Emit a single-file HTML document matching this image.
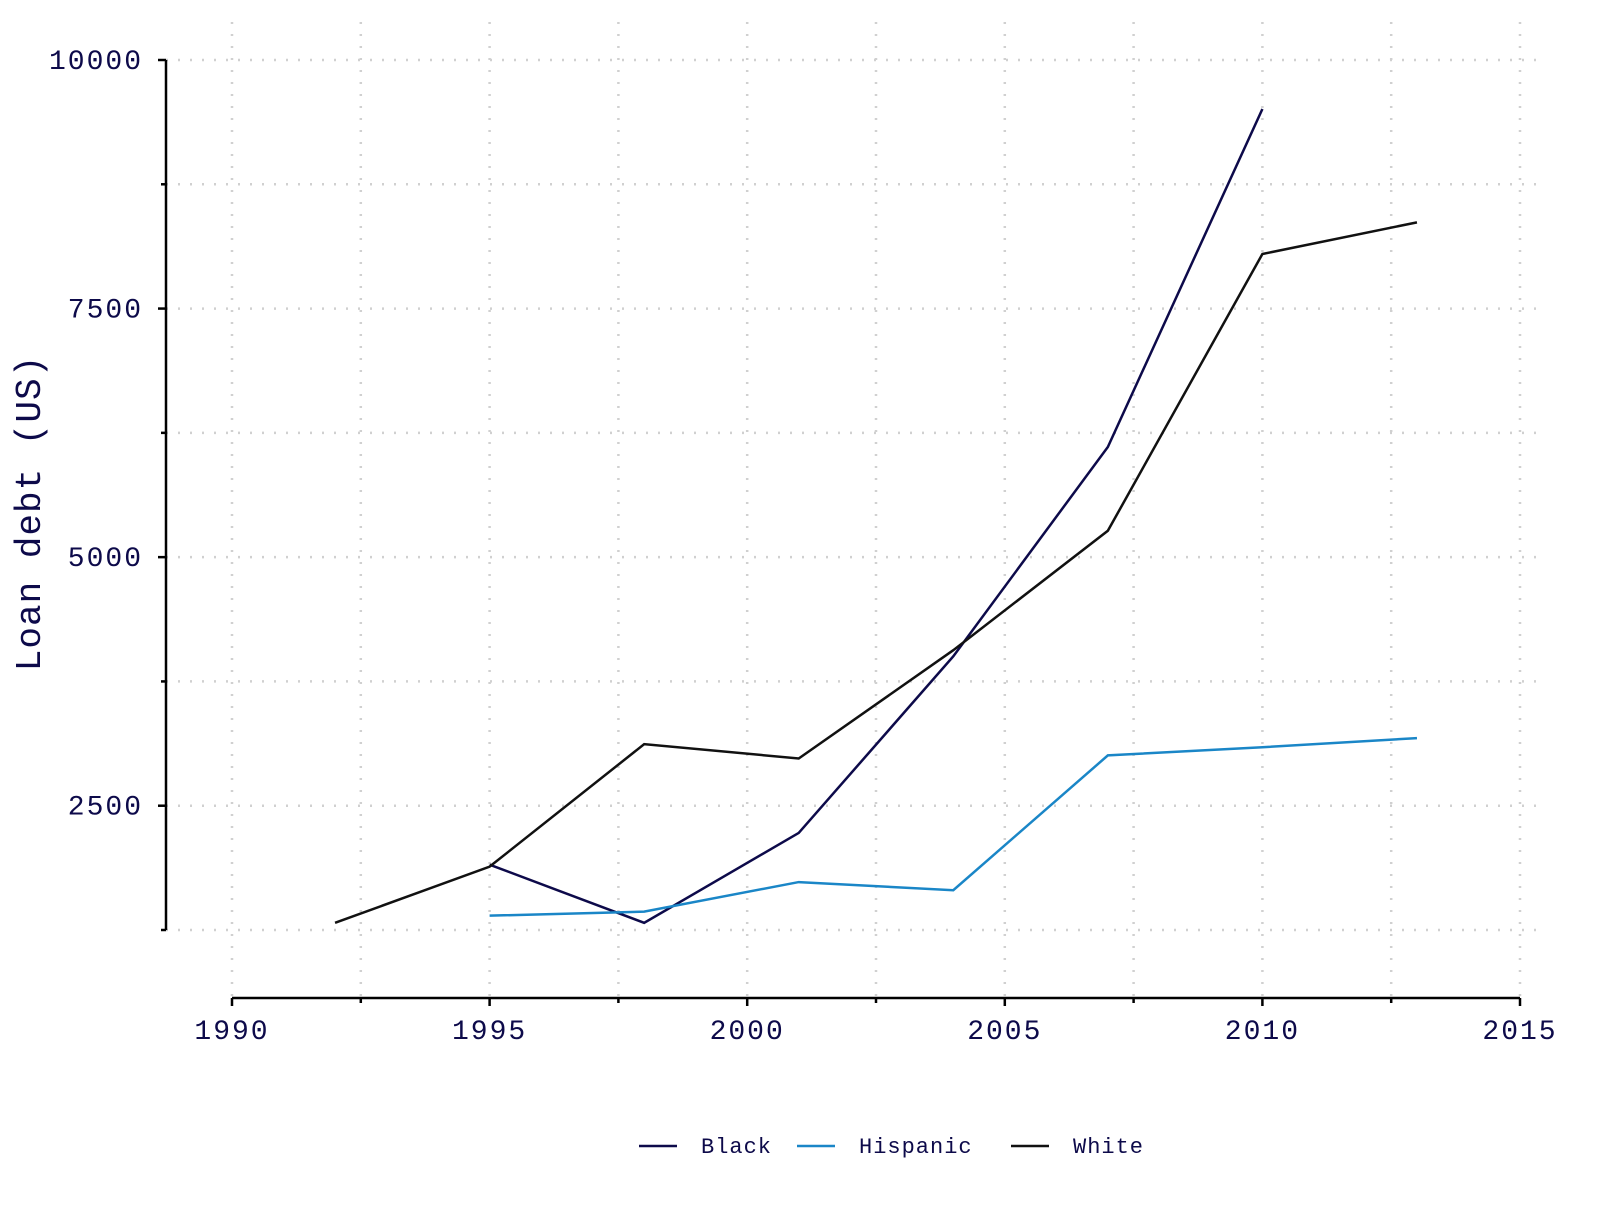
<!DOCTYPE html>
<html><head><meta charset="utf-8"><style>body{margin:0;background:#fff}svg text{font-family:"Liberation Mono",monospace;fill:#0d0a4a}</style></head>
<body>
<svg id="chart" width="1600" height="1200"></svg>
<script>
const years=[1992,1995,1998,2001,2004,2007,2010,2013];
const black=[null,1907,1322,2226,4002,6108,9507,null];
const hispanic=[null,1394,1435,1732,1650,3006,3088,3180];
const white=[1322,1887,3119,2975,4064,5265,8049,8367];
const xTicks=[1990,1995,2000,2005,2010,2015];
const yTicks=[2500,5000,7500,10000];
const NS='http://www.w3.org/2000/svg';
const svg=document.getElementById('chart');
const X=v=>232+(v-1990)*(1520-232)/25;
const Y=v=>60+(10000-v)*(930-60)/8750;
function mk(t,a,p){const e=document.createElementNS(NS,t);for(const k in a)e.setAttribute(k,a[k]);(p||svg).appendChild(e);return e;}
const grid=mk('g',{});


for(let v=1990;v<=2015;v+=2.5){mk('line',{x1:X(v),x2:X(v),y1:22,y2:998,stroke:'#d0d0d0','stroke-width':2.5,'stroke-dasharray':'2 10'},grid);}
for(let v=1250;v<=10000;v+=1250){mk('line',{x1:166,x2:1545,y1:Y(v),y2:Y(v),stroke:'#d0d0d0','stroke-width':2.5,'stroke-dasharray':'2 10'},grid);}
const ax=mk('g',{});


mk('line',{x1:166,x2:166,y1:Y(10000),y2:Y(1250),stroke:'#000','stroke-width':2.5},ax);
mk('line',{x1:X(1990),x2:X(2015),y1:998,y2:998,stroke:'#000','stroke-width':2.5},ax);
for(let v=1250;v<=10000;v+=1250){const t=v%2500===0?8:5;mk('line',{x1:166-t,x2:166,y1:Y(v),y2:Y(v),stroke:'#000','stroke-width':2.5},ax);}
for(let v=1990;v<=2015;v+=2.5){const t=v%5===0?8:5;mk('line',{x1:X(v),x2:X(v),y1:998,y2:998+t,stroke:'#000','stroke-width':2.5},ax);}
yTicks.forEach(v=>{const t=mk('text',{x:143,y:Y(v)+9,'text-anchor':'end','font-size':28,'letter-spacing':2},ax);t.textContent=v;

});
xTicks.forEach(v=>{const t=mk('text',{x:X(v),y:1039,'text-anchor':'middle','font-size':28,'letter-spacing':2},ax);t.textContent=v;

});
const yt=mk('text',{x:0,y:0,'text-anchor':'middle','font-size':36,transform:'translate(40,513) rotate(-90)','letter-spacing':1},ax);
yt.textContent='Loan debt (US)';


const series=[['black',black,'#0d0a4a'],['hispanic',hispanic,'#1a86c7'],['white',white,'#111111']];
series.forEach(([n,vals,c])=>{const pts=[];vals.forEach((v,i)=>{if(v!==null)pts.push(X(years[i])+','+Y(v));});
const p=mk('polyline',{points:pts.join(' '),fill:'none',stroke:c,'stroke-width':2.5});

});
const leg=[['Black','#0d0a4a',639],['Hispanic','#1a86c7',797],['White','#111111',1011]];
leg.forEach(([n,c,x])=>{const g=mk('g',{});


mk('line',{x1:x,x2:x+38,y1:1146,y2:1146,stroke:c,'stroke-width':2.5},g);
const t=mk('text',{x:x+62,y:1153,'font-size':22,'letter-spacing':1},g);t.textContent=n;});
</script>
</body></html>
